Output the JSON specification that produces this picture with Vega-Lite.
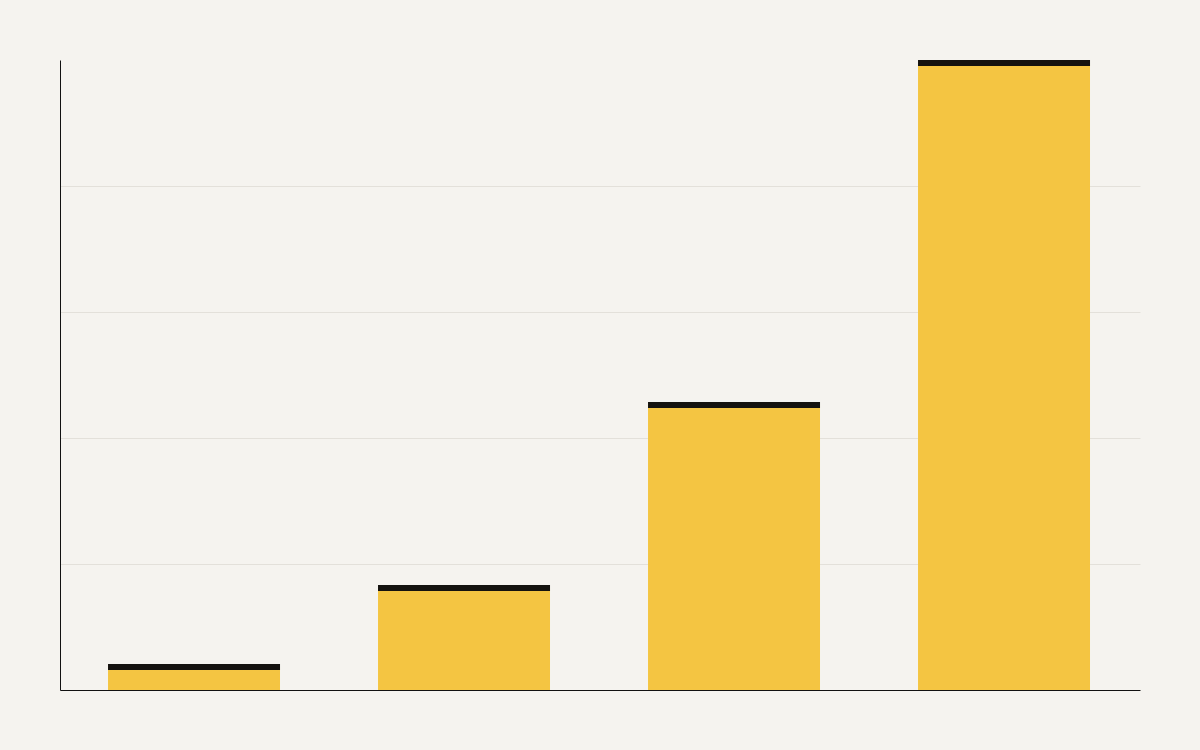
{
  "$schema": "https://vega.github.io/schema/vega-lite/v6.json",
  "width": 1080,
  "height": 630,
  "autosize": {"type": "none"},
  "padding": {"left": 60, "top": 60, "right": 60, "bottom": 60},
  "background": "#f5f3ef",
  "config": {"view": {"stroke": null}},
  "data": {
    "values": [
      {"category": "A", "value": 0.1825},
      {"category": "B", "value": 0.8095},
      {"category": "C", "value": 2.262},
      {"category": "D", "value": 4.976}
    ]
  },
  "encoding": {
    "x": {
      "field": "category",
      "type": "nominal",
      "sort": null,
      "scale": {"paddingInner": 0.363, "paddingOuter": 0.1815, "align": 0.49},
      "axis": {"title": null, "labels": false, "ticks": false, "grid": false, "domain": true, "domainColor": "#111111", "domainWidth": 1}
    },
    "y": {
      "field": "value",
      "type": "quantitative",
      "scale": {"domain": [0, 5], "nice": false, "zero": true},
      "axis": {"title": null, "labels": false, "ticks": false, "grid": true, "gridColor": "#e3e0da", "gridWidth": 1, "values": [1, 2, 3, 4], "domain": true, "domainColor": "#111111", "domainWidth": 1}
    }
  },
  "layer": [
    {"mark": {"type": "bar", "color": "#f4c542"}},
    {"mark": {"type": "tick", "color": "#14120f", "thickness": 6, "opacity": 1, "size": 172}}
  ]
}
